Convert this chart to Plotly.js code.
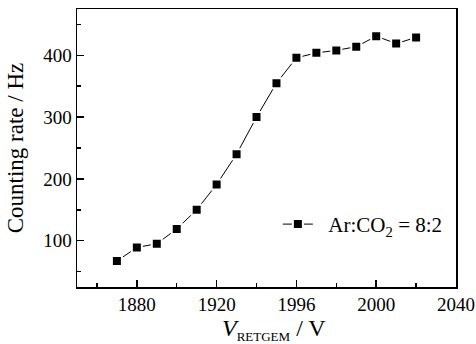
<!DOCTYPE html>
<html>
<head>
<meta charset="utf-8">
<script src="https://cdn.plot.ly/plotly-3.0.1.min.js"></script>
<style>html,body{margin:0;padding:0;background:#fff;}#chart{width:476px;height:344px;}</style>
</head>
<body>
<div id="chart"></div>
<script>
var voltage = [1870, 1880, 1890, 1900, 1910, 1920, 1930, 1940, 1950, 1960, 1970, 1980, 1990, 2000, 2010, 2020];
var countRate = [67, 89, 95, 119, 150, 191, 240, 300, 355, 396, 404, 408, 414, 431, 419, 429];
var xTickVals = [1880, 1920, 1960, 2000, 2040];
var xTickText = ['1880', '1920', '1996', '2000', '2040'];
var seriesName = 'Ar:CO<sub>2</sub> = 8:2';
var xTitle = '<i>V</i><sub><span style="font-size:13px">RETGEM</span></sub> / V';
var yTitle = 'Counting rate / Hz';

var FONT = 'Liberation Serif, Times New Roman, serif';
var NB = '\u00a0';

var trace = {
  x: voltage,
  y: countRate,
  type: 'scatter',
  mode: 'lines+markers',
  name: NB + NB + seriesName,
  line: {color: '#000', width: 1},
  marker: {symbol: 'square', size: 10, color: '#000', line: {color: '#fff', width: 2}}
};

var layout = {
  width: 476,
  height: 344,
  margin: {l: 77, r: 20, t: 9, b: 57},
  paper_bgcolor: '#fff',
  plot_bgcolor: '#fff',
  font: {family: FONT, color: '#000', size: 19},
  showlegend: true,
  legend: {x: 0.53, y: 0.225, xanchor: 'left', yanchor: 'middle', itemwidth: 30, bgcolor: 'rgba(0,0,0,0)', font: {family: FONT, size: 21}},
  xaxis: {
    range: [1850, 2040],
    tickmode: 'array',
    tickvals: xTickVals,
    ticktext: xTickText,
    ticks: 'inside', ticklen: 7, tickwidth: 1.5, tickcolor: '#000',
    minor: {tickmode: 'linear', tick0: 1860, dtick: 40, ticks: 'inside', ticklen: 4, tickwidth: 1.5, tickcolor: '#000'},
    showline: true, linewidth: 1.5, linecolor: '#000', mirror: true,
    showgrid: false, zeroline: false,
    tickfont: {family: FONT, size: 19}
  },
  yaxis: {
    range: [25, 475],
    tickmode: 'linear', tick0: 0, dtick: 100,
    ticks: 'inside', ticklen: 7, tickwidth: 1.5, tickcolor: '#000',
    minor: {tickmode: 'linear', tick0: 50, dtick: 100, ticks: 'inside', ticklen: 4, tickwidth: 1.5, tickcolor: '#000'},
    showline: true, linewidth: 1.5, linecolor: '#000', mirror: true,
    showgrid: false, zeroline: false,
    tickfont: {family: FONT, size: 19},
    title: {text: yTitle, font: {family: FONT, size: 23}, standoff: 13}
  },
  annotations: [{
    text: xTitle,
    xref: 'paper', yref: 'paper',
    x: 0.521, y: 0,
    xanchor: 'center', yanchor: 'top',
    yshift: -26,
    showarrow: false,
    font: {family: FONT, size: 24, color: '#000'}
  }]
};

Plotly.newPlot('chart', [trace], layout, {displayModeBar: false, staticPlot: true});
</script>
</body>
</html>
